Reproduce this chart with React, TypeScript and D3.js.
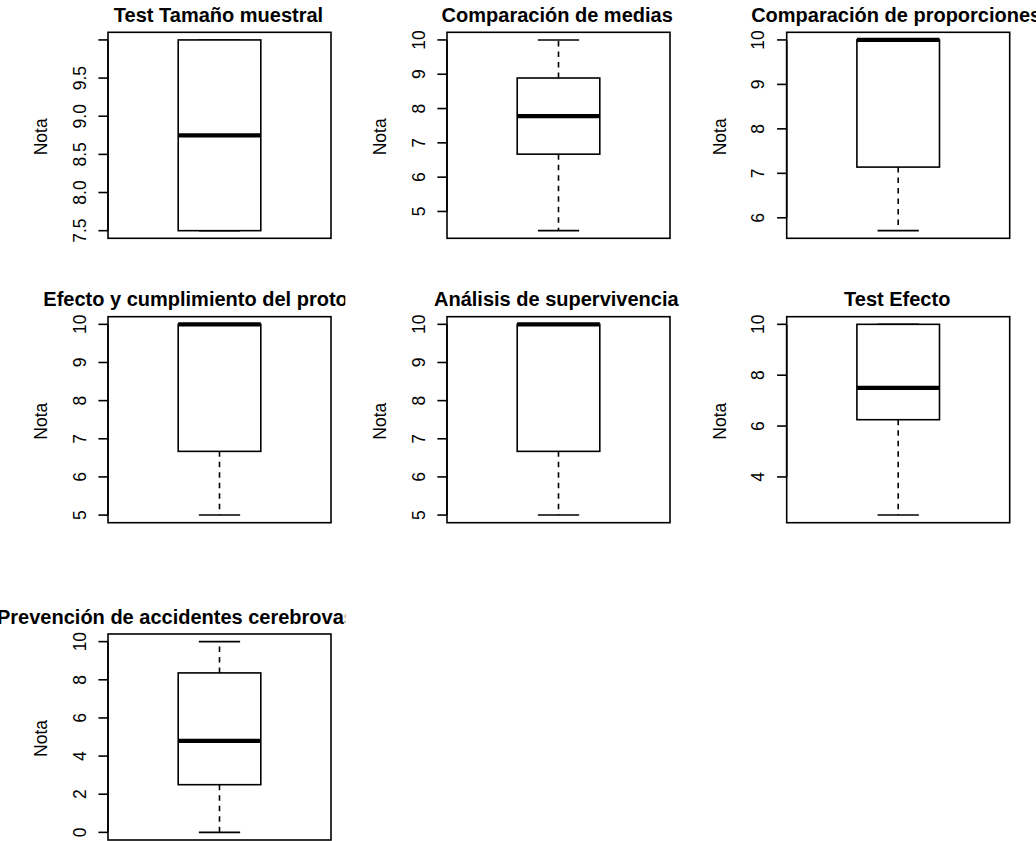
import React from "react";
import * as d3 from "d3";

// ---- Data ----
const titles = [
  "Test Tamaño muestral",
  "Comparación de medias",
  "Comparación de proporciones",
  "Efecto y cumplimiento del protocolo",
  "Análisis de supervivencia",
  "Test Efecto",
  "Prevención de accidentes cerebrovasculares",
];
const whiskerLow = [7.5, 4.44, 5.71, 5, 5, 2.5, 0];
const q1 = [7.5, 6.67, 7.14, 6.67, 6.67, 6.25, 2.5];
const medians = [8.75, 7.78, 10, 10, 10, 7.5, 4.8];
const q3 = [10, 8.89, 10, 10, 10, 10, 8.36];
const whiskerHigh = [10, 10, 10, 10, 10, 10, 10];
const tickValues = [
  [7.5, 8, 8.5, 9, 9.5, 10],
  [5, 6, 7, 8, 9, 10],
  [6, 7, 8, 9, 10],
  [5, 6, 7, 8, 9, 10],
  [5, 6, 7, 8, 9, 10],
  [4, 6, 8, 10],
  [0, 2, 4, 6, 8, 10],
];
const tickLabels = [
  ["7.5", "8.0", "8.5", "9.0", "9.5", ""],
  ["5", "6", "7", "8", "9", "10"],
  ["6", "7", "8", "9", "10"],
  ["5", "6", "7", "8", "9", "10"],
  ["5", "6", "7", "8", "9", "10"],
  ["4", "6", "8", "10"],
  ["0", "2", "4", "6", "8", "10"],
];
const yLabel = "Nota";

// ---- Layout ----
const W = 1036;
const H = 841;
const colLeft = [108, 447, 786.7];
const rowTop = [32.3, 316.7, 634];
const titleDx = [-1, -1.3, -2, -3.4, -2.2, -1, -8.5];
const PW = 223;
const PH = 206;
const FONT = "'Liberation Sans', Arial, Helvetica, sans-serif";
const LW = 1.6;

function Panel({ i }: { i: number }) {
  const row = Math.floor(i / 3);
  const col = i % 3;
  const left = colLeft[col];
  const top = rowTop[row];
  const lo = whiskerLow[i];
  const hi = whiskerHigh[i];
  const ext = (hi - lo) * 0.04;
  const y = d3.scaleLinear().domain([lo - ext, hi + ext]).range([top + PH, top]);
  const x = d3.scaleLinear().domain([0.46, 1.54]).range([left, left + PW]);
  const cx = x(1);
  const figX = (col * W) / 3;
  const clipId = `clip-${i}`;
  return (
    <g>
      <defs>
        <clipPath id={clipId}>
          <rect x={figX} y={0} width={W / 3} height={H} />
        </clipPath>
      </defs>
      <g clipPath={`url(#${clipId})`}>
        <text
          x={left + PW / 2 + titleDx[i]}
          y={top - 10.3}
          textAnchor="middle"
          fontFamily={FONT}
          fontWeight="bold"
          fontSize={20}
          fill="#000"
        >
          {titles[i]}
        </text>
      </g>
      {/* whiskers */}
      <line x1={cx} x2={cx} y1={y(q3[i])} y2={y(hi)} stroke="#000" strokeWidth={LW} strokeDasharray="5.5 5" />
      <line x1={cx} x2={cx} y1={y(q1[i])} y2={y(lo)} stroke="#000" strokeWidth={LW} strokeDasharray="5.5 5" />
      <line x1={x(0.9)} x2={x(1.1)} y1={y(hi)} y2={y(hi)} stroke="#000" strokeWidth={LW} />
      <line x1={x(0.9)} x2={x(1.1)} y1={y(lo)} y2={y(lo)} stroke="#000" strokeWidth={LW} />
      {/* box */}
      <rect
        x={x(0.8)}
        y={y(q3[i])}
        width={x(1.2) - x(0.8)}
        height={y(q1[i]) - y(q3[i])}
        fill="white"
        stroke="#000"
        strokeWidth={LW}
      />
      <line x1={x(0.8)} x2={x(1.2)} y1={y(medians[i])} y2={y(medians[i])} stroke="#000" strokeWidth={4.3} />
      {/* frame */}
      <rect x={left} y={top} width={PW} height={PH} fill="none" stroke="#000" strokeWidth={LW} />
      {/* y axis */}
      <line
        x1={left}
        x2={left}
        y1={y(tickValues[i][0])}
        y2={y(tickValues[i][tickValues[i].length - 1])}
        stroke="#000"
        strokeWidth={LW}
      />
      {tickValues[i].map((t, k) => (
        <g key={k}>
          <line x1={left - 9.6} x2={left} y1={y(t)} y2={y(t)} stroke="#000" strokeWidth={LW} />
          <text
            transform={`translate(${left - 22.5},${y(t)}) rotate(-90)`}
            textAnchor="middle"
            fontFamily={FONT}
            fontSize={17.5}
            fill="#000"
          >
            {tickLabels[i][k]}
          </text>
        </g>
      ))}
      <text
        transform={`translate(${left - 61},${top + PH / 2 + 1.5}) rotate(-90)`}
        textAnchor="middle"
        fontFamily={FONT}
        fontSize={17.5}
        fill="#000"
      >
        {yLabel}
      </text>
    </g>
  );
}

export default function App() {
  return (
    <div style={{ position: "absolute", left: 0, top: 0 }}>
      <svg width={W} height={H} style={{ display: "block", background: "white" }}>
        {titles.map((_, i) => (
          <Panel key={i} i={i} />
        ))}
      </svg>
    </div>
  );
}
